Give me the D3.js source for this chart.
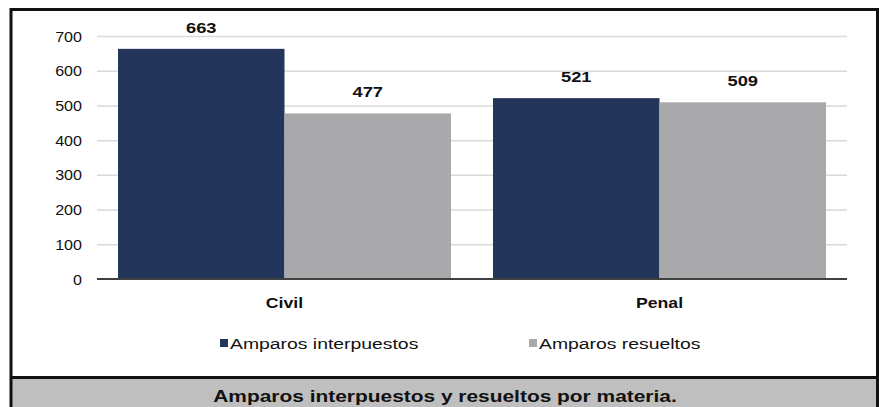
<!DOCTYPE html>
<html>
<head>
<meta charset="utf-8">
<script src="https://cdn.jsdelivr.net/npm/d3@7"></script>
<style>
  body { margin: 0; background: #fff; }
  svg { display: block; font-family: "Liberation Sans", Arial, sans-serif; }
</style>
</head>
<body>
<svg id="chart" width="879" height="407"></svg>
<script>
// data
var categories = ["Civil", "Penal"];
var seriesNames = ["Amparos interpuestos", "Amparos resueltos"];
var interpuestos = [663, 521];
var resueltos = [477, 509];
var yTicks = [0, 100, 200, 300, 400, 500, 600, 700];
var caption = "Amparos interpuestos y resueltos por materia.";

var colors = ["#23355b", "#a9a9ab"];
var stretch = 1.22; // the source image is a bit wider than tall text

var svg = d3.select("#chart"),
    margin = {top: 36, left: 97, right: 32, bottom: 128},
    width = 879 - margin.left - margin.right,
    height = 407 - margin.top - margin.bottom,
    g = svg.append("g").attr("transform", "translate(" + margin.left + "," + margin.top + ")");

// frame + caption band
svg.append("rect")
    .attr("x", 11).attr("y", 377).attr("width", 868).attr("height", 40)
    .attr("fill", "#bfbfbf");
svg.append("rect")
    .attr("x", 11).attr("y", 9.5).attr("width", 866.5).attr("height", 420)
    .attr("fill", "none").attr("stroke", "#111").attr("stroke-width", 3);
svg.append("line")
    .attr("x1", 11).attr("x2", 879).attr("y1", 377.5).attr("y2", 377.5)
    .attr("stroke", "#111").attr("stroke-width", 3);

function stretchText(sel, x, y, sx) {
    sel.attr("x", 0).attr("y", 0)
       .attr("transform", "translate(" + x + "," + y + ") scale(" + sx + ",1)");
}

var x0 = d3.scaleBand().domain(categories).range([0, width]).paddingInner(0).paddingOuter(0);
var x1 = d3.scaleBand().domain(seriesNames).range([21, x0.bandwidth() - 21]).padding(0);
var y = d3.scaleLinear().domain([0, 700]).range([height, 0]);

// gridlines + y labels
var yAxis = g.append("g")
    .call(d3.axisLeft(y).tickValues(yTicks).tickSize(-width).tickFormat(d3.format("d")));
yAxis.select(".domain").remove();
yAxis.selectAll(".tick line")
    .attr("stroke", "#d9d9d9").attr("stroke-width", 1.5)
    .filter(function(d) { return d === 0; }).remove();
yAxis.selectAll(".tick text")
    .attr("fill", "#111").attr("font-size", 14).attr("dy", "0.36em")
    .attr("text-anchor", "end")
    .each(function() { stretchText(d3.select(this), -15, 0, 1.15); });

var rows = categories.map(function(c, i) {
    return [
        {cat: c, key: seriesNames[0], value: interpuestos[i], color: colors[0]},
        {cat: c, key: seriesNames[1], value: resueltos[i], color: colors[1]}
    ];
});

var groups = g.selectAll(".grp")
    .data(rows)
    .enter()
    .append("g")
    .attr("class", "grp")
    .attr("transform", function(d) { return "translate(" + x0(d[0].cat) + ",0)"; });

groups.selectAll("rect")
    .data(function(d) { return d; })
    .enter()
    .append("rect")
    .attr("x", function(d) { return x1(d.key); })
    .attr("y", function(d) { return y(d.value); })
    .attr("width", x1.bandwidth())
    .attr("height", function(d) { return height - y(d.value); })
    .attr("fill", function(d) { return d.color; });

groups.selectAll(".val")
    .data(function(d) { return d; })
    .enter()
    .append("text")
    .attr("class", "val")
    .attr("text-anchor", "middle")
    .attr("font-size", 15)
    .attr("font-weight", "bold")
    .attr("fill", "#111")
    .text(function(d) { return d.value; })
    .each(function(d) {
        stretchText(d3.select(this), x1(d.key) + x1.bandwidth() / 2, y(d.value) - 16, stretch);
    });

// baseline
g.append("line")
    .attr("x1", 0).attr("x2", width)
    .attr("y1", height).attr("y2", height)
    .attr("stroke", "#404040").attr("stroke-width", 2);

// category labels
g.selectAll(".cat")
    .data(categories)
    .enter()
    .append("text")
    .attr("class", "cat")
    .attr("text-anchor", "middle")
    .attr("font-size", 14.5)
    .attr("font-weight", "bold")
    .attr("fill", "#111")
    .text(function(d) { return d; })
    .each(function(d) {
        stretchText(d3.select(this), x0(d) + x0.bandwidth() / 2, height + 29, stretch);
    });

// legend
var legendX = [220, 529];
var legend = svg.selectAll(".leg")
    .data(seriesNames)
    .enter()
    .append("g")
    .attr("class", "leg")
    .attr("transform", function(d, i) { return "translate(" + legendX[i] + ",339)"; });
legend.append("rect")
    .attr("width", 8).attr("height", 8)
    .attr("fill", function(d, i) { return colors[i]; });
legend.append("text")
    .attr("font-size", 15.5)
    .attr("fill", "#111")
    .text(function(d) { return d; })
    .each(function() { stretchText(d3.select(this), 10, 9.5, 1.25); });

// caption
svg.append("text")
    .attr("text-anchor", "middle")
    .attr("font-size", 17)
    .attr("font-weight", "bold")
    .attr("fill", "#111")
    .text(caption)
    .call(stretchText, 445, 402, 1.23);
</script>
</body>
</html>
